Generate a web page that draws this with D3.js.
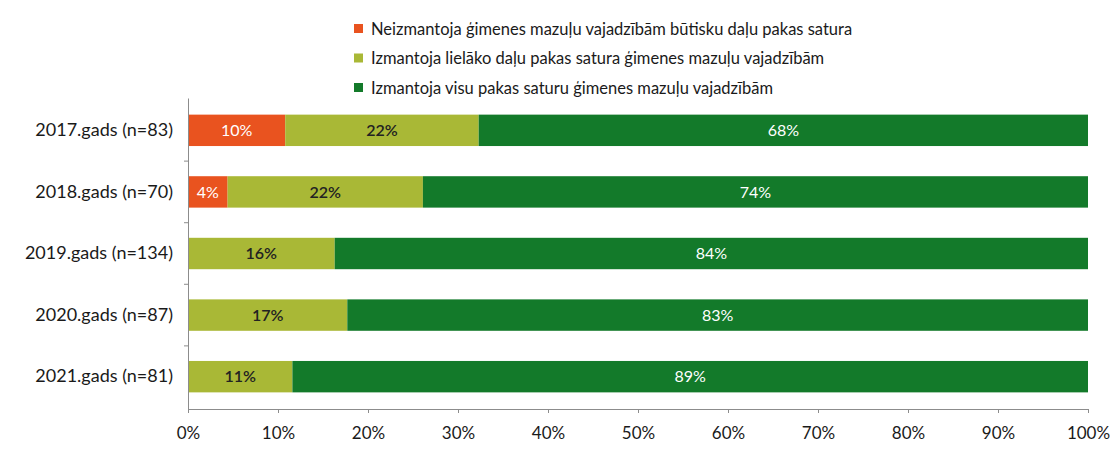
<!DOCTYPE html>
<html>
<head>
<meta charset="utf-8">
<script src="https://cdn.jsdelivr.net/npm/d3@7"></script>
<style>
  body { margin: 0; background: #fff; }
  text { font-family: Lato, "Open Sans", sans-serif; }
</style>
</head>
<body>
<svg id="chart" width="1112" height="450"></svg>
<script>
// categories (top to bottom)
var years = ["2017.gads (n=83)", "2018.gads (n=70)", "2019.gads (n=134)", "2020.gads (n=87)", "2021.gads (n=81)"];

// series values, % of respondents (bar lengths)
var notUsed  = [10.8, 4.4, 0, 0, 0];
var mostUsed = [21.5, 21.7, 16.3, 17.7, 11.6];
var allUsed  = [67.7, 73.9, 83.7, 82.3, 88.4];

// printed labels
var notUsedLbl  = ["10%", "4%", "", "", ""];
var mostUsedLbl = ["22%", "22%", "16%", "17%", "11%"];
var allUsedLbl  = ["68%", "74%", "84%", "83%", "89%"];

var seriesNames = [
  "Neizmantoja ģimenes mazuļu vajadzībām būtisku daļu pakas satura",
  "Izmantoja lielāko daļu pakas satura ģimenes mazuļu vajadzībām",
  "Izmantoja visu pakas saturu ģimenes mazuļu vajadzībām"
];
var colors = ["#e9531f", "#a9b836", "#137a2a"];
var labelColors = ["#ffffff", "#222222", "#ffffff"];
var xTicks = [0, 10, 20, 30, 40, 50, 60, 70, 80, 90, 100];

var svg = d3.select("#chart");
var plotLeft = 188, plotRight = 1088, plotTop = 98, plotBottom = 409;

var x = d3.scaleLinear().domain([0, 100]).range([plotLeft, plotRight]);
var y = d3.scaleBand().domain(years).range([plotTop, plotBottom]).paddingInner(0.49).paddingOuter(0.27);

var rows = years.map(function(yr, i) {
  return { year: yr, s0: notUsed[i], s1: mostUsed[i], s2: allUsed[i],
           l0: notUsedLbl[i], l1: mostUsedLbl[i], l2: allUsedLbl[i] };
});
var stack = d3.stack().keys(["s0", "s1", "s2"])(rows);

var layer = svg.selectAll("g.layer")
  .data(stack)
  .enter().append("g")
  .attr("class", "layer");

layer.each(function(s, k) {
  var g = d3.select(this);
  g.selectAll("rect")
    .data(s.filter(function(d) { return d[1] - d[0] > 0; }))
    .enter().append("rect")
    .attr("x", function(d) { return x(d[0]); })
    .attr("y", function(d) { return y(d.data.year); })
    .attr("width", function(d) { return x(d[1]) - x(d[0]); })
    .attr("height", y.bandwidth())
    .attr("fill", colors[k]);

  g.selectAll("text")
    .data(s.filter(function(d) { return d.data["l" + k] !== ""; }))
    .enter().append("text")
    .attr("x", function(d) { return (x(d[0]) + x(d[1])) / 2; })
    .attr("y", function(d) { return y(d.data.year) + y.bandwidth() / 2; })
    .attr("dy", "0.35em")
    .attr("text-anchor", "middle")
    .attr("font-size", 16)
    .attr("font-weight", k == 1 ? 600 : 400)
    .attr("fill", labelColors[k])
    .text(function(d) { return d.data["l" + k]; });
});

// y axis
var yAxis = svg.append("g")
  .attr("transform", "translate(" + plotLeft + ",0)")
  .call(d3.axisLeft(y).tickSize(0).tickPadding(15));
yAxis.select(".domain").attr("stroke", "#8c8c8c");
yAxis.selectAll("text").attr("font-size", 18).attr("fill", "#1a1a1a");
// small separators between categories
yAxis.selectAll("line.sep")
  .data(years.slice(1))
  .enter().append("line")
  .attr("class", "sep")
  .attr("x1", -4).attr("x2", 0)
  .attr("y1", function(d) { return y(d) - y.step() * y.paddingInner() / 2; })
  .attr("y2", function(d) { return y(d) - y.step() * y.paddingInner() / 2; })
  .attr("stroke", "#8c8c8c");

// x axis
var xAxis = svg.append("g")
  .attr("transform", "translate(0," + plotBottom + ")")
  .call(d3.axisBottom(x).tickValues(xTicks).tickSize(4).tickPadding(14)
    .tickFormat(function(d) { return d + "%"; }));
xAxis.select(".domain").attr("stroke", "#8c8c8c");
xAxis.selectAll(".tick line").attr("stroke", "#8c8c8c");
xAxis.selectAll("text").attr("font-size", 17).attr("fill", "#1a1a1a");

// legend
var legend = svg.append("g").attr("transform", "translate(354,0)");
var li = legend.selectAll("g")
  .data(seriesNames)
  .enter().append("g")
  .attr("transform", function(d, i) { return "translate(0," + (29 + i * 29.5) + ")"; });
li.append("rect")
  .attr("x", 0).attr("y", -5)
  .attr("width", 9).attr("height", 9)
  .attr("fill", function(d, i) { return colors[i]; });
li.append("text")
  .attr("x", 17)
  .attr("dy", "0.35em")
  .attr("font-size", 16.5)
  .attr("fill", "#1a1a1a")
  .text(function(d) { return d; });
</script>
</body>
</html>
